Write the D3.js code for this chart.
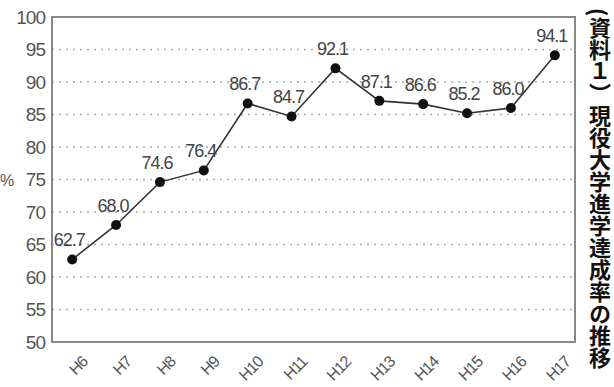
<!DOCTYPE html>
<html>
<head>
<meta charset="utf-8">
<script src="https://cdn.jsdelivr.net/npm/d3@7"></script>
<style>
  body { margin: 0; background: #fff; }
</style>
</head>
<body>
<div id="chart"></div>
<script>
// data
var years = ["H6", "H7", "H8", "H9", "H10", "H11", "H12", "H13", "H14", "H15", "H16", "H17"];
var rates = [62.7, 68.0, 74.6, 76.4, 86.7, 84.7, 92.1, 87.1, 86.6, 85.2, 86.0, 94.1];
var yTicks = [50, 55, 60, 65, 70, 75, 80, 85, 90, 95, 100];
var title = "(資料１）現役大学進学達成率の推移";

var W = 614, H = 387;
var margin = {top: 17, right: 39, bottom: 45, left: 52},
    width = W - margin.left - margin.right,
    height = H - margin.top - margin.bottom;

var font = "'Liberation Sans', Arial, sans-serif";

var svg = d3.select("#chart")
    .append("svg")
    .attr("width", W)
    .attr("height", H);

var g = svg.append("g")
    .attr("transform", "translate(" + margin.left + "," + margin.top + ")");

var x = d3.scalePoint()
    .domain(years)
    .range([0, width])
    .padding(0.46);

var y = d3.scaleLinear()
    .domain([50, 100])
    .range([height, 0]);

// dotted grid lines
g.selectAll(".grid")
    .data(yTicks.filter(function (d) { return d > 50 && d < 100; }))
    .enter()
    .append("line")
    .attr("x1", 0)
    .attr("x2", width)
    .attr("y1", function (d) { return y(d); })
    .attr("y2", function (d) { return y(d); })
    .attr("stroke", "#aaa")
    .attr("stroke-width", 1.5)
    .attr("stroke-dasharray", "2,5");

// frame
g.append("rect")
    .attr("width", width)
    .attr("height", height)
    .attr("fill", "none")
    .attr("stroke", "#888")
    .attr("stroke-width", 2);

// y labels
var yAxis = g.append("g")
    .call(d3.axisLeft(y).tickValues(yTicks).tickSize(0).tickPadding(7));
yAxis.select(".domain").remove();
yAxis.selectAll("text")
    .attr("fill", "#555")
    .style("font-family", font)
    .style("font-size", "19px")
    .style("letter-spacing", "-1px");

// x labels, slanted
var xAxis = g.append("g")
    .attr("transform", "translate(0," + height + ")")
    .call(d3.axisBottom(x).tickSize(0).tickPadding(0));
xAxis.select(".domain").remove();
xAxis.selectAll("text")
    .attr("fill", "#555")
    .style("font-family", font)
    .style("font-size", "16px")
    .style("letter-spacing", "-1px")
    .style("text-anchor", "end")
    .attr("y", 0)
    .attr("dy", "0")
    .attr("transform", "translate(16,21) rotate(-45)");

svg.append("text")
    .attr("x", 0)
    .attr("y", 186)
    .attr("fill", "#555")
    .style("font-family", font)
    .style("font-size", "16px")
    .style("letter-spacing", "-1px")
    .text("%");

// the line
var line = d3.line()
    .x(function (d, i) { return x(years[i]); })
    .y(function (d) { return y(d); });

g.append("path")
    .datum(rates)
    .attr("d", line)
    .attr("fill", "none")
    .attr("stroke", "#333")
    .attr("stroke-width", 1.6);

g.selectAll(".dot")
    .data(rates)
    .enter()
    .append("circle")
    .attr("cx", function (d, i) { return x(years[i]); })
    .attr("cy", function (d) { return y(d); })
    .attr("r", 5)
    .attr("fill", "#111");

g.selectAll(".val")
    .data(rates)
    .enter()
    .append("text")
    .attr("x", function (d, i) { return x(years[i]) - 3; })
    .attr("y", function (d) { return y(d) - 13; })
    .attr("text-anchor", "middle")
    .attr("fill", "#444")
    .style("font-family", font)
    .style("font-size", "18px")
    .style("letter-spacing", "-1px")
    .text(function (d) { return d.toFixed(1); });

// vertical title on the right
svg.append("text")
    .attr("x", 600)
    .attr("y", 8)
    .style("writing-mode", "vertical-rl")
    .style("font-family", "'Noto Sans CJK JP', sans-serif")
    .style("font-weight", "bold")
    .style("font-size", "22px")
    .attr("fill", "#111")
    .text(title);
</script>
</body>
</html>
